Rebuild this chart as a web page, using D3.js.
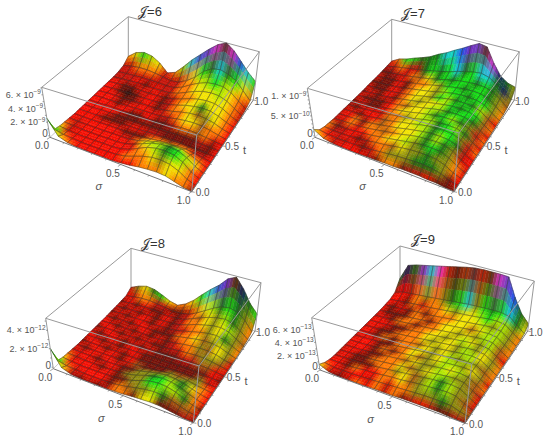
<!DOCTYPE html>
<html><head><meta charset="utf-8">
<script src="https://cdn.jsdelivr.net/npm/d3@7"></script>
<style>html,body{margin:0;padding:0;background:#fff}svg{display:block}text{font-family:"Liberation Sans",Arial,sans-serif;fill:#555}</style>
</head><body><svg id="c" width="550" height="442"></svg>
<script>
// Surface heights in percent of the box height; rows run t=1 (back) to t=0 (front), columns sigma=0..1
const heightsJ6=[
[15,28,33,30,20,4,10,27,46,62,78,92,100,88,70,52,38],
[5,9,11,11,9,6,3,5,13,25,42,52,55,50,42,26,10],
[2,3,4,5,5,4,3,4,10,20,28,34,36,35,28,16,5],
[1,2,3,4,4,3,3,4,8,15,22,27,29,28,22,12,3],
[1,2,3,3,3,3,3,4,7,12,18,22,24,23,18,9,2],
[1,2,2,3,3,3,3,4,6,10,15,18,20,19,14,7,2],
[1,2,2,2,3,3,3,3,5,8,12,15,16,15,11,5,1],
[1,2,2,2,2,3,3,3,4,6,9,11,12,11,8,4,1],
[1,1,2,2,2,2,3,3,3,5,6,8,8,7,5,3,1],
[1,1,2,2,2,2,2,3,3,4,4,5,5,4,3,2,1],
[1,1,1,2,2,2,2,2,3,3,4,4,4,3,3,2,1],
[1,1,1,1,2,2,2,2,3,5,7,8,9,9,7,4,1],
[2,1,1,1,1,2,2,3,6,11,16,19,20,19,14,7,1],
[3,2,1,1,1,2,2,4,9,16,23,27,28,26,19,9,2],
[4,2,1,1,1,2,2,4,9,17,25,29,30,28,21,9,2],
[7,3,2,1,1,1,2,3,6,12,18,22,23,21,15,6,1],
[38,9,3,1,1,1,1,1,3,5,8,10,11,10,6,2,0]];
const heightsJ7=[
[5,15,20,27,33,40,50,58,68,77,87,96,93,63,40,30,26],
[4,8,11,14,17,20,24,28,32,38,42,46,48,44,34,24,12],
[3,5,7,9,12,15,18,22,26,30,33,35,36,35,30,20,7],
[2,4,5,7,10,13,16,20,24,27,30,32,33,32,27,16,5],
[2,3,4,6,9,12,15,18,22,26,29,31,31,30,25,14,4],
[2,3,4,6,8,11,14,18,21,25,28,30,30,29,24,13,4],
[1,2,4,5,8,11,14,17,21,24,27,29,29,28,23,12,3],
[1,2,3,5,7,10,13,17,20,24,27,28,29,28,23,12,3],
[1,2,3,5,7,10,13,16,20,23,26,28,28,27,22,11,3],
[1,2,3,5,7,10,13,16,19,23,26,27,28,27,22,11,3],
[1,2,3,4,7,9,12,16,19,23,26,27,28,27,21,11,3],
[1,2,3,4,6,9,12,15,19,22,25,27,27,26,21,10,3],
[1,2,3,4,6,9,12,15,18,22,25,26,27,26,20,10,2],
[2,2,2,4,6,8,11,14,17,20,23,25,25,24,18,9,2],
[3,2,2,3,5,7,10,12,15,18,20,21,21,20,15,7,2],
[6,3,2,3,3,5,6,8,10,12,13,14,14,13,10,4,1],
[16,5,2,1,1,1,2,2,3,3,4,4,4,3,3,1,0]];
const heightsJ8=[
[12,20,25,23,16,8,4,12,25,42,58,72,90,98,78,52,35],
[4,7,9,9,7,5,2,3,6,14,24,34,42,44,40,28,10],
[3,4,5,6,5,4,2,3,6,13,20,26,30,32,28,18,6],
[2,3,4,4,4,3,3,3,6,11,17,21,25,26,22,13,4],
[2,3,3,3,3,3,3,3,5,9,13,17,20,21,17,10,3],
[1,2,3,3,3,3,3,3,5,8,11,14,16,16,13,7,2],
[1,2,2,2,3,3,3,3,4,6,9,11,12,12,10,5,2],
[1,2,2,2,2,3,3,3,3,5,7,8,9,9,7,4,1],
[1,1,2,2,2,2,2,3,3,4,5,6,6,6,5,3,1],
[1,1,2,2,2,2,2,2,3,3,4,4,5,4,3,2,1],
[1,1,1,2,2,2,2,2,3,3,4,5,6,5,3,2,1],
[1,1,1,1,2,2,2,3,4,6,8,10,10,8,5,3,1],
[2,1,1,1,1,2,3,4,7,11,15,17,16,13,8,4,1],
[3,2,1,1,1,2,3,5,9,15,19,21,20,16,10,5,1],
[4,2,1,1,1,2,3,5,9,15,20,22,21,17,10,5,1],
[7,3,2,1,1,1,2,4,7,11,14,16,15,12,7,3,1],
[40,9,3,1,1,1,1,2,3,5,6,7,7,5,3,1,0]];
const heightsJ9=[
[28,62,68,72,76,80,84,88,92,95,96,96,96,95,58,30,14],
[8,14,16,18,20,22,24,26,28,30,31,32,33,33,30,18,6],
[3,6,8,10,12,13,15,17,19,20,22,24,26,27,25,14,4],
[2,4,5,7,9,10,12,14,16,18,20,22,24,25,23,13,4],
[1,3,4,6,7,9,11,13,15,17,19,21,23,24,22,12,3],
[1,2,4,5,7,9,10,12,14,16,18,20,22,23,22,12,3],
[1,2,3,5,6,8,10,12,14,16,18,20,22,23,21,12,3],
[1,2,3,4,6,8,10,12,14,16,18,20,22,23,21,12,3],
[1,2,3,4,6,8,10,12,14,16,18,20,22,23,21,12,3],
[1,2,3,4,6,8,10,12,14,16,18,20,22,23,21,12,3],
[1,2,3,4,6,8,10,12,14,16,18,20,21,22,21,11,3],
[1,2,3,4,6,8,10,12,14,16,18,20,21,22,20,11,3],
[1,2,3,4,5,7,9,11,13,15,17,19,21,22,20,11,3],
[1,2,3,4,5,7,9,11,13,15,17,19,20,21,19,10,2],
[2,2,2,3,5,6,8,10,11,13,15,16,17,18,16,8,2],
[5,2,2,2,3,4,5,6,7,8,9,10,10,10,9,4,1],
[11,3,1,1,1,1,2,2,2,3,3,3,3,3,2,1,0]];
// Colour classes of the surface at the same nodes
const coloursJ6=[
"OYGLYrOLCBPMdMBCG","rrOOOrrrOYGgCgGYO","rrrrrrrrOOYLGLYOr","rrrRdRrrOOYYYLYOr","RRddRrRdrOOYYYYOr",
"RRdKdRRdrOYYgYYOR","RRRddrRdrOOYoyYOR","RRRdRRRRrrOYYoOOR","RRRRRddRddrOOoOrR","RRRRddddddddddrdR",
"RRRdddRRrrddddddR","RRRRRRdddOOoOOrrR","RrRRRRRrOYYYyYOOR","OrRRRRRRrYLLgGLYR","YrRRRRRRROYLgGLOR",
"GORRRRRROOOYyYYOR","GYORRRRRRROOOYOOd"];
const coloursJ7=[
"rOGGgggCCBPPdMbgy","rrOrrgGgGCgGCCgby","ddrrOoYgGgGGgGgyo","RddRdOOYyGGgGGgyO","dddRdOYYyLGGgGGyO",
"RddRrOYYyGLgGgLoR","dRdRdOYyYYLGgGGoO","RdddROoYYLLgGGgoR","dRddROYYYLgGLgyrO","rdRRrOOyYLLgGLgoR",
"rRdRRoOYYLLgGGyrO","rROdOoOYYYLgLGgrR","rrOrOOoOYYLgLgyrR","OdrRROOYYLygGgyOr","OrrRdrOOoYyygyyOR",
"ORrrRdrOyyygggydR","YOrRRRrdOOdrrRddd"];
const coloursJ8=[
"ryYgGYOOYGCBPdbgG","RrOOrrddrOYLgGgyO","dRdRddRdrOoYyLgyO","RdRdRdRdrOOYyYLyo","dRdRRdRdrrOOyYgyO",
"RdRdRRdddOOYoyYyO","RRdRdRdRdrOOyoYyr","dRRdRdRddrrOoyyoR","RdRRdRdRdddrrooRr","RRdRdRRddddddddRd",
"dRRdRdRdddddddyrR","RdRRRdRodddyoyyOR","rRRdRRddyyyyygYOR","OrRRdRdyyygGLgyOR","YRRRRRddyyGGLLgOd",
"GOrRRRdOoyyLgoooR","GYrdrdrOOdYYdddrd"];
const coloursJ9=[
"gbgPCMrdrdrdMPBgy","rRrOyOygGCyGgGCgY","RRdOrOOYyYYLGLLyO","RdRdOdOOOYYYLyLyO","RdddOOdOYYYoYLLyO",
"rRdOOdOOYYyYyLLoO","RRRddOOYYyYLYyLoR","rRddOOOYyYYyLyYyO","RRdOdOOoYyYyLLYyO","rRRddOOYYyYLyLyoO",
"RRRdOdOYoyYLLyYyR","rRRddOOoYyyLYLyoO","rRddOOOYoyYLLyyor","rRdddOOyYoyLgLyyR","RRdORROOYoyLgLyor",
"ORrRRrOrOOyyygyyo","YrdrOROrOdrRrddrd"];
const palette={R:"#f40a00",r:"#c41208",d:"#741008",O:"#ff7a00",o:"#a85a0c",Y:"#f2e400",y:"#8c8c0c",L:"#a6e600",G:"#14e414",g:"#1a7a14",C:"#14d4e4",B:"#2440ee",b:"#141a6a",P:"#8420e0",M:"#f024dc",K:"#281008"};
const titles=["6","7","8","9"];
const sigmaTicks=[0,0.5,1];
const tTicks=[0,0.5,1];
const zLabelsJ6=[[0,"0"],[2,"2.","-9"],[4,"4.","-9"],[6,"6.","-9"]];
const zLabelsJ7=[[0,"0"],[5,"5.","-10"],[10,"1.","-9"]];
const zLabelsJ8=[[0,"0"],[2,"2.","-12"],[4,"4.","-12"]];
const zLabelsJ9=[[0,"0"],[2,"2.","-13"],[4,"4.","-13"],[6,"6.","-13"]];

const panels=[
 {h:heightsJ6,c:coloursJ6,title:titles[0],z:zLabelsJ6,zMax:7.1,zStep:1,tp:[150,11],
  floor:{L:[50,137.3],F:[191.7,191.7],R:[253.3,100],B:[128.3,63.3]},top:{L:[41.7,87.3],F:[196.7,135],R:[259.3,51.7],B:[128.3,16.7]}},
 {h:heightsJ7,c:coloursJ7,title:titles[1],z:zLabelsJ7,zMax:11.9,zStep:1,tp:[413,13],
  floor:{L:[315,137.3],F:[454,191.7],R:[514.3,100],B:[391.7,63.3]},top:{L:[307.3,88.3],F:[459,133],R:[519.3,51.7],B:[391.7,19.3]}},
 {h:heightsJ8,c:coloursJ8,title:titles[2],z:zLabelsJ8,zMax:5.3,zStep:1,tp:[153,243],
  floor:{L:[53.3,368.7],F:[193.3,422.7],R:[255,331],B:[131,292.7]},top:{L:[45.7,318.3],F:[199,366],R:[261,282.7],B:[131,248.3]}},
 {h:heightsJ9,c:coloursJ9,title:titles[3],z:zLabelsJ9,zMax:7.8,zStep:1,tp:[423,239],
  floor:{L:[320,370],F:[465,423.3],R:[527.7,331],B:[400,291]},top:{L:[311.7,317.7],F:[471.7,364.3],R:[534.3,281],B:[400,246]}}
];
const svg=d3.select("#c");
const defs=svg.append("defs");
defs.append("filter").attr("id","soft").attr("x","-5%").attr("y","-5%").attr("width","110%").attr("height","110%")
  .append("feGaussianBlur").attr("stdDeviation",0.35);
const SUB=3,N=16;
const lerp=(a,b,k)=>[a[0]+(b[0]-a[0])*k,a[1]+(b[1]-a[1])*k];
panels.forEach(p=>{
  const s01=d3.scaleLinear().domain([0,N]).range([0,1]);
  const h01=d3.scaleLinear().domain([0,100]).range([0,1]);
  const bil=(o,s,t)=>lerp(lerp(o.L,o.F,s),lerp(o.B,o.R,s),t);
  const proj=(s,t,z)=>lerp(bil(p.floor,s,t),bil(p.top,s,t),z);
  const g=svg.append("g");
  const line=(a,b,w,col)=>g.append("line").attr("x1",a[0]).attr("y1",a[1]).attr("x2",b[0]).attr("y2",b[1]).attr("stroke",col||"#999").attr("stroke-width",w||1);
  // back of the box
  line(p.top.L,p.top.B);line(p.top.B,p.top.R);line(p.floor.B,p.top.B);
  line(p.floor.L,p.floor.B,.8,"#bbb");line(p.floor.B,p.floor.R,.8,"#bbb");
  // surface
  const items=[];
  for(let r=0;r<N;r++)for(let c=0;c<N;c++){
    const z00=p.h[r][c],z01=p.h[r][c+1],z10=p.h[r+1][c],z11=p.h[r+1][c+1];
    const col=(rr,cc)=>d3.rgb(palette[p.c[rr][cc]]);
    const c00=col(r,c),c01=col(r,c+1),c10=col(r+1,c),c11=col(r+1,c+1);
    const pos=(u,v)=>{ // u along row (sigma), v toward front
      const z=h01((z00*(1-u)+z01*u)*(1-v)+(z10*(1-u)+z11*u)*v);
      return proj(s01(c+u),s01(N-r-v),z);};
    for(let a=0;a<SUB;a++)for(let b=0;b<SUB;b++){
      const u0=b/SUB,u1=(b+1)/SUB,v0=a/SUB,v1=(a+1)/SUB,um=(u0+u1)/2,vm=(v0+v1)/2;
      const mix=k=>(c00[k]*(1-um)+c01[k]*um)*(1-vm)+(c10[k]*(1-um)+c11[k]*um)*vm;
      items.push({d:d3.line()([pos(u0,v0),pos(u1,v0),pos(u1,v1),pos(u0,v1)])+"Z",fill:`rgb(${mix("r")|0},${mix("g")|0},${mix("b")|0})`});
    }
    items.push({d:d3.line()([pos(0,1),pos(0,0),pos(1,0),pos(1,1),pos(0,1)]),mesh:true});
  }
  g.append("g").attr("filter","url(#soft)").selectAll("path").data(items).join("path")
    .attr("d",d=>d.d)
    .attr("fill",d=>d.mesh?"none":d.fill)
    .attr("stroke",d=>d.mesh?"rgba(45,45,45,.62)":d.fill)
    .attr("stroke-width",d=>d.mesh?.7:.4);
  // front of the box
  line(p.top.L,p.top.F);line(p.top.F,p.top.R);line(p.floor.F,p.top.F);line(p.floor.R,p.top.R);line(p.floor.L,p.top.L);
  line(p.floor.L,p.floor.F,1,"#777");line(p.floor.F,p.floor.R,1,"#777");
  // axes
  const tick=(a,dx,dy,w)=>g.append("line").attr("x1",a[0]).attr("y1",a[1]).attr("x2",a[0]+dx).attr("y2",a[1]+dy).attr("stroke","#777").attr("stroke-width",w||.7);
  const sigS=d3.scaleLinear().domain([0,1]).range([0,1]);
  sigS.ticks(10).forEach(v=>{const big=sigmaTicks.includes(v);tick(proj(sigS(v),0,0),-(big?3:1.5),big?2:1);});
  sigS.ticks(10).forEach(v=>{const big=tTicks.includes(v);tick(proj(1,sigS(v),0),big?3:1.5,big?.6:.3);});
  const zS=d3.scaleLinear().domain([-0.03*p.zMax,p.zMax]).range([0,1]);
  d3.range(0,Math.floor(p.zMax)+1,p.zStep).forEach(v=>{tick(proj(0,0,zS(v)),-1.5,0);});
  sigmaTicks.forEach(v=>{const q=proj(v,0,0);
    g.append("text").attr("x",q[0]-8).attr("y",q[1]+8.5).attr("dy",".35em").attr("text-anchor","middle").attr("font-size",10).text(d3.format(".1f")(v));});
  tTicks.forEach(v=>{const q=proj(1,v,0);
    g.append("text").attr("x",q[0]+11-3*v).attr("y",q[1]+1).attr("dy",".35em").attr("text-anchor","middle").attr("font-size",10).text(d3.format(".1f")(v));});
  p.z.forEach(l=>{const q=proj(0,0,zS(l[0]));
    const tx=g.append("text").attr("x",q[0]-2).attr("y",q[1]-(l[0]===0?2:0)).attr("dy",".35em").attr("text-anchor","end").attr("font-size",l[2]?9:10);
    if(l[2]){tx.append("tspan").text(l[1]+" × 10");tx.append("tspan").attr("dy","-3.5").attr("font-size",6.5).text(l[2].replace("-","−"));}
    else tx.text(l[1]);});
  const ms=proj(.5,0,0),mt=proj(1,.5,0);
  g.append("text").attr("x",ms[0]-22).attr("y",ms[1]+22).attr("dy",".35em").attr("text-anchor","middle").attr("font-size",11).attr("font-style","italic").attr("font-family","Liberation Serif").text("σ");
  g.append("text").attr("x",mt[0]+22).attr("y",mt[1]+4).attr("dy",".35em").attr("text-anchor","middle").attr("font-size",11).text("t");
  g.append("text").attr("x",p.tp[0]).attr("y",p.tp[1]).attr("dy",".35em").attr("text-anchor","middle").attr("font-size",13).style("fill","#333")
    .text("𝒥="+p.title);
});
</script></body></html>
